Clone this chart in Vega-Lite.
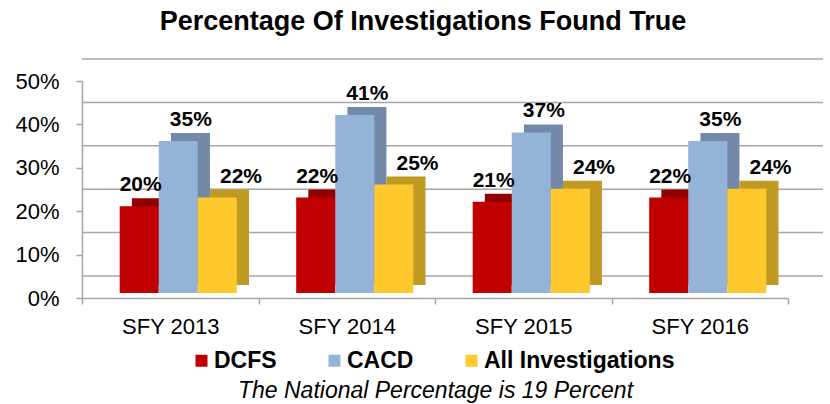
{
  "$schema": "https://vega.github.io/schema/vega-lite/v6.json",
  "width": 706,
  "height": 217,
  "autosize": {"type": "none"},
  "padding": {"left": 82, "top": 81, "right": 42, "bottom": 106},
  "background": "white",
  "config": {
    "font": "Liberation Sans",
    "view": {"stroke": null}
  },
  "title": {
    "text": "Percentage Of Investigations Found True",
    "font": "Liberation Sans",
    "fontSize": 27,
    "fontWeight": "bold",
    "color": "#000000",
    "anchor": "middle",
    "frame": "group",
    "dx": -12,
    "offset": 22
  },
  "datasets": {
    "bars": [
      {"year": "SFY 2013", "series": "DCFS", "value": 0.20},
      {"year": "SFY 2013", "series": "CACD", "value": 0.35},
      {"year": "SFY 2013", "series": "All Investigations", "value": 0.22},
      {"year": "SFY 2014", "series": "DCFS", "value": 0.22},
      {"year": "SFY 2014", "series": "CACD", "value": 0.41},
      {"year": "SFY 2014", "series": "All Investigations", "value": 0.25},
      {"year": "SFY 2015", "series": "DCFS", "value": 0.21},
      {"year": "SFY 2015", "series": "CACD", "value": 0.37},
      {"year": "SFY 2015", "series": "All Investigations", "value": 0.24},
      {"year": "SFY 2016", "series": "DCFS", "value": 0.22},
      {"year": "SFY 2016", "series": "CACD", "value": 0.35},
      {"year": "SFY 2016", "series": "All Investigations", "value": 0.24}
    ],
    "grid": [
      {"v": 0}, {"v": 0.1}, {"v": 0.2}, {"v": 0.3}, {"v": 0.4}, {"v": 0.5}
    ]
  },
  "layer": [
    {
      "data": {"name": "grid"},
      "mark": {"type": "rule", "color": "#A6A6A6", "strokeWidth": 1.5, "xOffset": 35, "x2Offset": 35, "yOffset": -22},
      "encoding": {
        "y": {"field": "v", "type": "quantitative", "scale": {"domain": [0, 0.5], "nice": false},
          "axis": {"values": [0, 0.1, 0.2, 0.3, 0.4, 0.5], "format": ".0%", "labelFontSize": 22, "labelColor": "#000000", "labelFont": "Liberation Sans", "domainColor": "#A6A6A6", "domainWidth": 1.5, "tickColor": "#A6A6A6", "tickWidth": 1.5, "tickSize": 6, "labelPadding": 17, "grid": false, "title": null}
        }
      }
    },
    {
      "data": {"name": "bars"},
      "mark": {"type": "bar", "yOffset": -13, "y2Offset": -13},
      "encoding": {
        "x": {"field": "year", "type": "nominal", "scale": {"paddingInner": 0, "paddingOuter": 0},
          "axis": {"title": "The National Percentage is 19 Percent", "labelAngle": 0, "labelFontSize": 22, "labelColor": "#000000", "labelFont": "Liberation Sans", "labelPadding": 12, "domainColor": "#A6A6A6", "domainWidth": 1.5, "tickColor": "#A6A6A6", "tickWidth": 1.5, "tickSize": 6, "tickBand": "extent",
            "titleFont": "Liberation Sans", "titleFontStyle": "italic", "titleFontWeight": "normal", "titleFontSize": 23, "titleColor": "#000000", "titleX": 353, "titleY": 99, "titleBaseline": "alphabetic", "titleAlign": "center"}},
        "xOffset": {"field": "series", "type": "nominal", "sort": ["DCFS", "CACD", "All Investigations"], "scale": {"paddingOuter": 0.76, "paddingInner": 0, "align": 0.84}},
        "y": {"field": "value", "type": "quantitative"},
        "y2": {"datum": 0},
        "color": {"field": "series", "type": "nominal", "sort": ["DCFS", "CACD", "All Investigations"],
          "scale": {"domain": ["DCFS", "CACD", "All Investigations"], "range": ["#900000", "#7289AA", "#C09A22"]},
          "legend": null}
      }
    },
    {
      "data": {"name": "bars"},
      "mark": {"type": "bar", "yOffset": -5, "y2Offset": -5},
      "encoding": {
        "x": {"field": "year", "type": "nominal"},
        "xOffset": {"field": "series", "type": "nominal", "sort": ["DCFS", "CACD", "All Investigations"], "scale": {"paddingOuter": 0.76, "paddingInner": 0, "align": 0.635}},
        "y": {"field": "value", "type": "quantitative"},
        "y2": {"datum": 0},
        "color": {"field": "series", "type": "nominal", "sort": ["DCFS", "CACD", "All Investigations"],
          "scale": {"domain": ["DCFS", "CACD", "All Investigations"], "range": ["#C00000", "#95B3D7", "#FFC92E"]},
          "legend": {"title": null, "orient": "none", "legendX": 108, "legendY": 268, "direction": "horizontal", "symbolType": "square", "symbolSize": 144, "symbolStrokeWidth": 0, "labelFontSize": 23, "labelFontWeight": "bold", "labelFont": "Liberation Sans", "labelColor": "#000000", "labelOffset": 1, "labelLimit": 400, "columnPadding": 46}}
      }
    },
    {
      "data": {"name": "bars"},
      "mark": {"type": "text", "fontSize": 21, "fontWeight": "bold", "font": "Liberation Sans", "color": "#000000", "baseline": "alphabetic", "dy": -20},
      "encoding": {
        "x": {"field": "year", "type": "nominal"},
        "xOffset": {"field": "series", "type": "nominal", "sort": ["DCFS", "CACD", "All Investigations"], "scale": {"paddingOuter": 0.76, "paddingInner": 0, "align": 0.77}},
        "y": {"field": "value", "type": "quantitative"},
        "text": {"field": "value", "type": "quantitative", "format": ".0%"}
      }
    }
  ],
  "resolve": {"scale": {"color": "independent", "xOffset": "independent"}}
}
